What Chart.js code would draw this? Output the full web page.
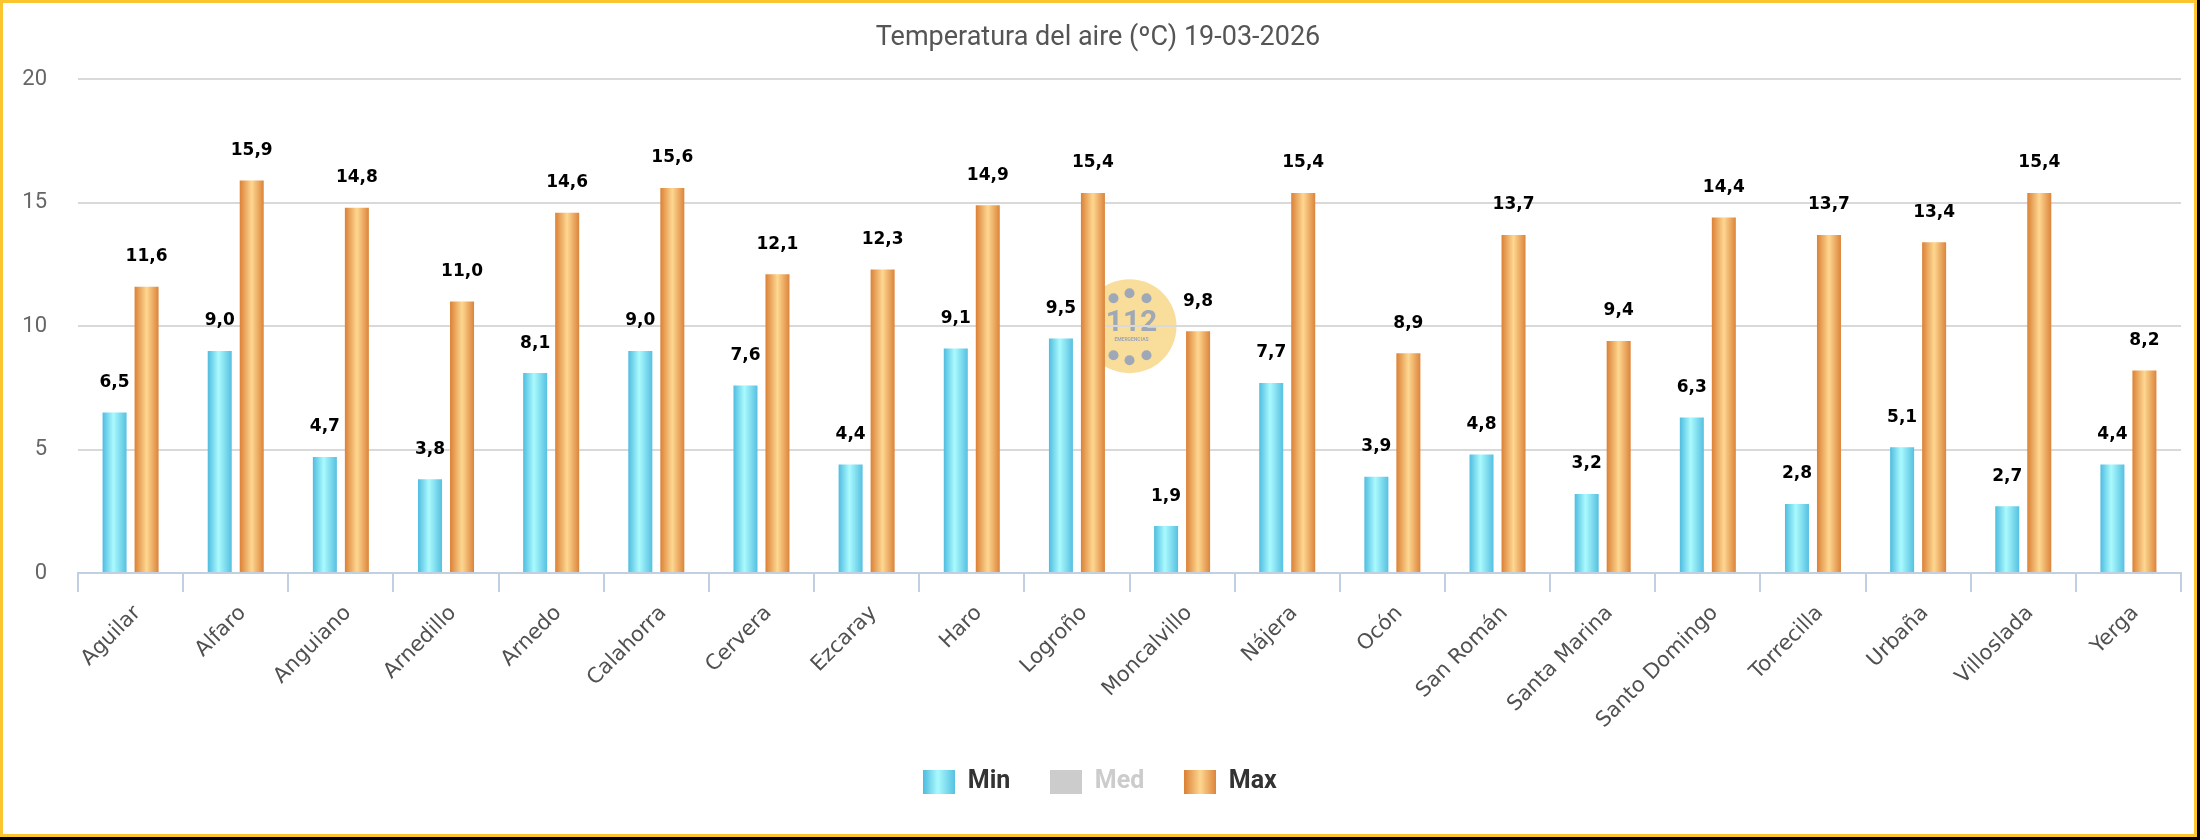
<!DOCTYPE html>
<html><head><meta charset="utf-8">
<script src="https://cdn.jsdelivr.net/npm/chart.js@4.4.1/dist/chart.umd.min.js"></script>
<style>
html,body{margin:0;padding:0;background:#000;width:2200px;height:840px;overflow:hidden;}
#frame{position:absolute;left:0;top:0;width:2191px;height:831px;border:3px solid #fbc52f;background:#fff;}
#c{display:block;width:2191px;height:831px;}
</style></head><body>
<div id="frame"><canvas id="c" width="2191" height="831"></canvas></div>
<script>
const categories = ['Aguilar','Alfaro','Anguiano','Arnedillo','Arnedo','Calahorra','Cervera','Ezcaray','Haro','Logroño','Moncalvillo','Nájera','Ocón','San Román','Santa Marina','Santo Domingo','Torrecilla','Urbaña','Villoslada','Yerga'];
const minValues = [6.5, 9.0, 4.7, 3.8, 8.1, 9.0, 7.6, 4.4, 9.1, 9.5, 1.9, 7.7, 3.9, 4.8, 3.2, 6.3, 2.8, 5.1, 2.7, 4.4];
const medValues = [];
const maxValues = [11.6, 15.9, 14.8, 11.0, 14.6, 15.6, 12.1, 12.3, 14.9, 15.4, 9.8, 15.4, 8.9, 13.7, 9.4, 14.4, 13.7, 13.4, 15.4, 8.2];
const seriesNames = ['Min', 'Med', 'Max'];
const yTickValues = [0, 5, 10, 15, 20];
const chartTitle = 'Temperatura del aire (ºC) 19-03-2026';

const CAT_PCT = 0.6087, BAR_PCT = 0.75;
const minStops = [[0,'#4fbce0'],[0.45,'#aafafd'],[1,'#56c0e1']];
const maxStops = [[0,'#db8136'],[0.5,'#fed791'],[1,'#dc843b']];

function barGradient(c, stops, side) {
  const chart = c.chart, xs = chart.scales && chart.scales.x;
  if (c.type !== 'data' || !xs) return stops[1][1];
  const catW = (xs.right - xs.left) / categories.length;
  const slot = catW * CAT_PCT / 2;
  const bw = slot * BAR_PCT;
  const cx = xs.getPixelForValue(c.dataIndex) + side * slot / 2;
  const g = chart.ctx.createLinearGradient(cx - bw / 2, 0, cx + bw / 2, 0);
  stops.forEach(s => g.addColorStop(s[0], s[1]));
  return g;
}
function swatch(stops, solid) {
  const cv = document.createElement('canvas'); cv.width = 32; cv.height = 24;
  const x = cv.getContext('2d');
  if (solid) { x.fillStyle = solid; } else {
    const g = x.createLinearGradient(0, 0, 32, 0); stops.forEach(s => g.addColorStop(s[0], s[1])); x.fillStyle = g;
  }
  x.fillRect(0, 0, 32, 24); return cv;
}
const swatches = [swatch(minStops), swatch(null, '#cccccc'), swatch(maxStops)];
const fmt = v => v.toFixed(1).replace('.', ',');

const valueLabels = {
  id: 'valueLabels',
  afterDatasetsDraw(chart) {
    const ctx = chart.ctx; ctx.save();
    ctx.font = 'bold 17px "DejaVu Sans"'; ctx.fillStyle = '#000'; ctx.textAlign = 'center'; ctx.textBaseline = 'middle';
    chart.data.datasets.forEach((ds, i) => {
      if (!chart.isDatasetVisible(i)) return;
      chart.getDatasetMeta(i).data.forEach((bar, j) => {
        const v = ds.data[j]; if (v == null) return;
        ctx.fillText(fmt(v), bar.x, bar.y - 30);
      });
    });
    ctx.restore();
  }
};
const logo = {
  id: 'logo',
  beforeDraw(chart) {
    const a = chart.chartArea; if (!a) return;
    const cx = (a.left + a.right) / 2, cy = (a.top + a.bottom) / 2;
    const ctx = chart.ctx; ctx.save();
    ctx.fillStyle = '#f9dd9a';
    ctx.beginPath(); ctx.arc(cx, cy, 47, 0, Math.PI * 2); ctx.fill();
    ctx.fillStyle = '#9ea8b6';
    [[-16,-28],[0,-33],[17,-28],[-16,29],[0,34],[17,29]].forEach(p => { ctx.beginPath(); ctx.arc(cx + p[0], cy + p[1], 5, 0, Math.PI * 2); ctx.fill(); });
    ctx.textAlign = 'center'; ctx.textBaseline = 'middle';
    ctx.font = 'bold 30px Roboto'; ctx.fillText('112', cx + 2, cy - 3);
    ctx.font = 'bold 5px Roboto'; ctx.fillText('EMERGENCIAS', cx + 2, cy + 14);
    ctx.restore();
  }
};
const shiftBoxes = {
  id: 'shiftBoxes',
  afterLayout(chart) {
    if (chart.legend) { chart.legend.left += 8; chart.legend.right += 8; }
    if (chart.titleBlock) { chart.titleBlock.left += 6; chart.titleBlock.right += 6; }
  }
};

new Chart(document.getElementById('c'), {
  type: 'bar',
  data: {
    labels: categories,
    datasets: [
      { label: seriesNames[0], data: minValues, backgroundColor: c => barGradient(c, minStops, -1), categoryPercentage: CAT_PCT, barPercentage: BAR_PCT },
      { label: seriesNames[1], data: medValues, hidden: true, backgroundColor: '#cccccc', categoryPercentage: CAT_PCT, barPercentage: BAR_PCT },
      { label: seriesNames[2], data: maxValues, backgroundColor: c => barGradient(c, maxStops, 1), categoryPercentage: CAT_PCT, barPercentage: BAR_PCT }
    ]
  },
  options: {
    responsive: false, animation: false, devicePixelRatio: 1,
    layout: { padding: { left: 0, right: 13, top: 0, bottom: 30 } },
    plugins: {
      title: { display: true, text: chartTitle, color: '#555', font: { family: 'Roboto', size: 27, weight: 'normal' }, padding: { top: 19, bottom: 25 } },
      tooltip: { enabled: false },
      legend: {
        position: 'bottom', onClick: null,
        labels: {
          usePointStyle: true, pointStyleWidth: 32, boxHeight: 24, padding: 40,
          font: { family: 'Roboto', size: 25, weight: 'bold' }, color: '#333',
          generateLabels(chart) {
            return chart.data.datasets.map((ds, i) => ({
              text: ds.label, pointStyle: swatches[i], datasetIndex: i, hidden: false,
              fontColor: chart.isDatasetVisible(i) ? '#333333' : '#cccccc',
              fillStyle: '#ccc', strokeStyle: 'rgba(0,0,0,0)', lineWidth: 0
            }));
          }
        }
      }
    },
    scales: {
      x: {
        offset: true,
        grid: { display: true, drawOnChartArea: false, drawTicks: true, tickLength: 19, color: '#c0d0e0', lineWidth: 2, offset: true },
        border: { display: true, color: '#c0d0e0', width: 2 },
        ticks: { maxRotation: 45, minRotation: 45, autoSkip: false, color: '#505050', font: { family: '"DejaVu Sans"', size: 21 }, padding: 9, labelOffset: 7 },
        afterFit(s) { s.height = 156; }
      },
      y: {
        min: 0, max: 20,
        afterBuildTicks(s) { s.ticks = yTickValues.map(v => ({ value: v })); },
        ticks: { padding: 31, color: '#666', font: { family: 'Roboto', size: 22 } },
        grid: { color: '#d9d9d9', lineWidth: 2, drawTicks: false },
        border: { display: false },
        afterFit(s) { s.width = 75; }
      }
    }
  },
  plugins: [logo, valueLabels, shiftBoxes]
});
</script>
</body></html>
